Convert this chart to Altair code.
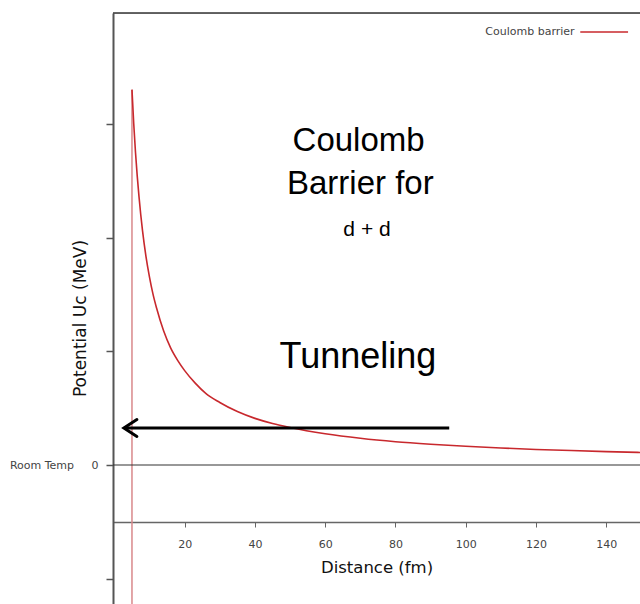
import altair as alt
import pandas as pd

# Coulomb barrier for d + d: potential energy versus separation
distance_fm = [5, 5.5, 6, 6.5, 7, 7.5, 8, 9, 10, 11, 12, 14, 16, 18, 20, 23,
               26, 30, 35, 40, 45, 50, 60, 70, 80, 90, 100, 110, 120, 130,
               140, 150]
potential = [3.30, 3.00, 2.75, 2.54, 2.36, 2.20, 2.06, 1.83, 1.65, 1.50, 1.38,
             1.18, 1.03, 0.92, 0.83, 0.72, 0.63, 0.55, 0.47, 0.41, 0.365,
             0.33, 0.275, 0.235, 0.205, 0.183, 0.165, 0.15, 0.137, 0.127,
             0.118, 0.11]
series_name = "Coulomb barrier"

x_ticks = [20, 40, 60, 80, 100, 120, 140]
y_ticks = [-1, 0, 1, 2, 3]

# nuclear radius where the barrier peaks
contact_fm = 5
# tunneling arrow (from, to) and its energy level
arrow_from, arrow_to, arrow_level = 95.3, 2.7, 0.325

x_domain = [-0.4, 149.6]
y_domain = [-1.222, 3.974]

# key in the top right corner: label end, line start/end, level
key_text_x, key_line_x, key_line_x2, key_y = 131.0, 132.6, 146.2, 3.807

LABEL_FONT = "DejaVu Sans"
NOTE_FONT = "Liberation Sans"
CURVE_COLOR = "#c8282d"
nb = "\u00a0"

curve_df = pd.DataFrame({"distance": distance_fm, "potential": potential})

x_scale = alt.Scale(domain=x_domain, nice=False, zero=False)
y_scale = alt.Scale(domain=y_domain, nice=False, zero=False)

x_axis = alt.Axis(
    title="Distance (fm)", values=x_ticks, grid=False, offset=-82,
    domainColor="#666", domainWidth=1.5, tickColor="#666", tickSize=5,
    labelFont=LABEL_FONT, labelFontSize=11, labelColor="#444", labelPadding=11,
    titleFont=LABEL_FONT, titleFontSize=16.5, titleFontWeight="normal",
    titleColor="#111", titleY=45, titleBaseline="middle",
)
y_axis = alt.Axis(
    title="Potential Uc (MeV)", values=y_ticks, grid=False,
    labelExpr=f"datum.value == 0 ? 'Room Temp{nb * 5}0' : ''",
    domainColor="#555", domainWidth=2, tickColor="#555", tickSize=7,
    tickWidth=1.5, labelFont=LABEL_FONT, labelFontSize=11, labelColor="#444",
    labelPadding=8,
    titleFont=LABEL_FONT, titleFontSize=17, titleFontWeight="normal",
    titleColor="#111", titleX=-33, titleY=305, titleAngle=270,
    titleAlign="center", titleBaseline="middle",
)

curve = alt.Chart(curve_df).mark_line(
    strokeWidth=1.6, interpolate="monotone", color=CURVE_COLOR
).encode(
    x=alt.X("distance:Q", scale=x_scale, axis=x_axis),
    y=alt.Y("potential:Q", scale=y_scale, axis=y_axis),
)

# vertical wall at the contact distance
wall = alt.Chart(pd.DataFrame({"x": [contact_fm], "y": [y_domain[0]],
                               "y2": [potential[0]]})).mark_rule(
    color="#d9888b", strokeWidth=1.5
).encode(x="x:Q", y="y:Q", y2="y2:Q")

# room temperature level
zero_line = alt.Chart(pd.DataFrame({"y": [0]})).mark_rule(
    color="#333", strokeWidth=1.2
).encode(y="y:Q")

# frame line along the top of the plot
top_line = alt.Chart(pd.DataFrame({"y": [y_domain[1]]})).mark_rule(
    color="#333", strokeWidth=1.5
).encode(y="y:Q")

arrow_df = pd.DataFrame({"x": [arrow_from], "x2": [arrow_to],
                         "y": [arrow_level]})
arrow_shaft = alt.Chart(arrow_df).mark_rule(
    color="black", strokeWidth=3
).encode(x="x:Q", x2="x2:Q", y="y:Q")

arrow_head = alt.Chart(pd.DataFrame({"x": [arrow_to], "y": [arrow_level]})).mark_point(
    shape="M1.53,-1L0,0L1.53,1", size=289, filled=False, stroke="black",
    strokeWidth=3, opacity=1, strokeCap="round", strokeJoin="miter"
).encode(x="x:Q", y="y:Q")

notes_df = pd.DataFrame({
    "text": ["Coulomb", "Barrier for", "d + d", "Tunneling"],
    "x": [69.5, 70.0, 71.9, 69.3],
    "y": [2.85, 2.47, 2.07, 0.95],
    "size": [33, 33, 21, 36],
})
notes = alt.Chart(notes_df).mark_text(
    font=NOTE_FONT, color="black", align="center", baseline="middle"
).encode(
    x="x:Q", y="y:Q", text="text:N",
    size=alt.Size("size:Q", scale=None, legend=None),
)

# series key: label followed by a line sample
key_label = alt.Chart(pd.DataFrame({"x": [key_text_x], "y": [key_y],
                                    "t": [series_name]})).mark_text(
    font=LABEL_FONT, fontSize=11, color="#444", align="right", baseline="middle"
).encode(x="x:Q", y="y:Q", text="t:N")
key_line = alt.Chart(pd.DataFrame({"x": [key_line_x], "x2": [key_line_x2],
                                   "y": [key_y]})).mark_rule(
    color=CURVE_COLOR, strokeWidth=1.5
).encode(x="x:Q", x2="x2:Q", y="y:Q")

chart = alt.layer(
    wall, zero_line, top_line, curve, arrow_shaft, arrow_head, notes,
    key_label, key_line
).properties(
    width=527, height=591,
    autosize=alt.AutoSizeParams(type="none"),
    padding={"left": 113, "top": 13, "right": 0, "bottom": 0},
).configure_view(stroke=None).configure(background="white")

chart.save("out.html", embed_options={"renderer": "svg", "actions": False})
